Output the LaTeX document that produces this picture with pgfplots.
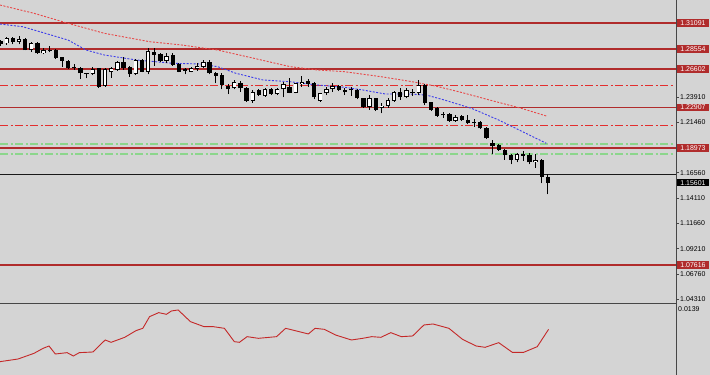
\documentclass[border=0pt]{standalone}
\usepackage{pgfplots}
\pgfplotsset{compat=1.18}
\usepackage{pgfplotstable}
\usepackage{fontspec}
\setmainfont{Liberation Sans}
\definecolor{bg}{RGB}{212,212,212}
\definecolor{lvl}{RGB}{176,44,44}
\definecolor{dd}{RGB}{226,46,46}
\definecolor{lg}{RGB}{140,214,140}
\definecolor{mared}{RGB}{232,70,70}
\definecolor{mablue}{RGB}{60,60,235}
\definecolor{ind}{RGB}{196,40,40}
\definecolor{frm}{RGB}{70,70,70}

\pgfplotstableread{
i o h l c
0 1.2929 1.2943 1.2885 1.2909
1 1.2911 1.2975 1.2895 1.2960
2 1.2966 1.2975 1.2902 1.2927
3 1.2927 1.2985 1.2902 1.2953
4 1.2953 1.2958 1.2842 1.2846
5 1.2846 1.2921 1.2830 1.2911
6 1.2911 1.2921 1.2811 1.2814
7 1.2814 1.2863 1.2805 1.2846
8 1.2849 1.2888 1.2824 1.2840
9 1.2846 1.2856 1.2759 1.2766
10 1.2776 1.2782 1.2685 1.2740
11 1.2743 1.2750 1.2662 1.2669
12 1.2685 1.2708 1.2653 1.2669
13 1.2675 1.2685 1.2563 1.2621
14 1.2624 1.2626 1.2572 1.2614
15 1.2611 1.2685 1.2604 1.2659
16 1.2669 1.2675 1.2481 1.2491
17 1.2498 1.2669 1.2491 1.2659
18 1.2633 1.2685 1.2578 1.2669
19 1.2653 1.2740 1.2643 1.2733
20 1.2733 1.2782 1.2653 1.2675
21 1.2685 1.2694 1.2588 1.2611
22 1.2611 1.2759 1.2604 1.2750
23 1.2750 1.2759 1.2630 1.2636
24 1.2636 1.2869 1.2611 1.2837
25 1.2830 1.2863 1.2694 1.2798
26 1.2805 1.2814 1.2727 1.2740
27 1.2740 1.2814 1.2718 1.2791
28 1.2798 1.2814 1.2694 1.2701
29 1.2708 1.2718 1.2630 1.2636
30 1.2659 1.2675 1.2611 1.2643
31 1.2636 1.2685 1.2630 1.2669
32 1.2662 1.2718 1.2643 1.2691
33 1.2685 1.2750 1.2669 1.2727
34 1.2727 1.2750 1.2611 1.2621
35 1.2626 1.2636 1.2524 1.2597
36 1.2604 1.2621 1.2466 1.2507
37 1.2498 1.2517 1.2420 1.2466
38 1.2475 1.2556 1.2466 1.2539
39 1.2530 1.2549 1.2442 1.2475
40 1.2475 1.2485 1.2345 1.2355
41 1.2355 1.2459 1.2336 1.2442
42 1.2459 1.2466 1.2401 1.2410
43 1.2401 1.2475 1.2394 1.2466
44 1.2466 1.2475 1.2410 1.2420
45 1.2420 1.2475 1.2410 1.2466
46 1.2466 1.2539 1.2388 1.2517
47 1.2485 1.2572 1.2427 1.2433
48 1.2433 1.2530 1.2427 1.2524
49 1.2517 1.2595 1.2491 1.2539
50 1.2549 1.2563 1.2491 1.2517
51 1.2530 1.2539 1.2369 1.2388
52 1.2355 1.2433 1.2345 1.2427
53 1.2427 1.2485 1.2410 1.2466
54 1.2468 1.2524 1.2442 1.2500
55 1.2500 1.2507 1.2449 1.2459
56 1.2459 1.2481 1.2410 1.2436
57 1.2462 1.2491 1.2404 1.2456
58 1.2459 1.2468 1.2369 1.2378
59 1.2381 1.2384 1.2287 1.2297
60 1.2297 1.2410 1.2265 1.2381
61 1.2381 1.2384 1.2255 1.2265
62 1.2282 1.2330 1.2233 1.2307
63 1.2307 1.2378 1.2287 1.2362
64 1.2355 1.2449 1.2345 1.2436
65 1.2442 1.2481 1.2362 1.2388
66 1.2394 1.2481 1.2378 1.2459
67 1.2436 1.2468 1.2404 1.2427
68 1.2427 1.2556 1.2410 1.2507
69 1.2507 1.2514 1.2311 1.2330
70 1.2340 1.2345 1.2255 1.2265
71 1.2287 1.2297 1.2200 1.2210
72 1.2219 1.2243 1.2191 1.2214
73 1.2223 1.2233 1.2152 1.2158
74 1.2158 1.2217 1.2152 1.2194
75 1.2210 1.2217 1.2158 1.2168
76 1.2168 1.2217 1.2126 1.2136
77 1.2146 1.2178 1.2103 1.2139
78 1.2146 1.2158 1.2081 1.2088
79 1.2091 1.2103 1.1984 1.1991
80 1.1942 1.1974 1.1836 1.1916
81 1.1926 1.1933 1.1868 1.1877
82 1.1877 1.1887 1.1781 1.1829
83 1.1829 1.1836 1.1739 1.1781
84 1.1781 1.1845 1.1758 1.1836
85 1.1836 1.1868 1.1771 1.1822
86 1.1829 1.1845 1.1739 1.1758
87 1.1758 1.1836 1.1706 1.1781
88 1.1781 1.1790 1.1555 1.1619
89 1.1619 1.1642 1.1448 1.1560
}\candles

\pgfplotstableread{
x y
-0.08 1.3282
5.45 1.3202
10.98 1.3105
16.88 1.3008
24.24 1.2927
29.41 1.2895
35.30 1.2846
41.20 1.2766
47.10 1.2685
51.50 1.2653
55.95 1.2636
61.85 1.2588
66.26 1.2546
70.70 1.2498
75.10 1.2433
79.50 1.2362
84.70 1.2281
88.75 1.2207
}\maslow

\pgfplotstableread{
x y
-0.08 1.3098
3.61 1.3072
7.28 1.3008
10.98 1.2943
13.92 1.2846
16.88 1.2798
22.03 1.2750
27.93 1.2718
32.36 1.2711
35.30 1.2685
38.26 1.2621
42.68 1.2556
47.10 1.2539
51.53 1.2507
55.95 1.2485
58.90 1.2459
62.59 1.2420
66.26 1.2420
69.22 1.2410
72.16 1.2362
76.59 1.2281
81.00 1.2168
85.43 1.2039
88.75 1.1942
}\mafast

\pgfplotstableread{
x y
-0.08 0.00758
2.86 0.00790
5.45 0.00858
6.93 0.00918
7.89 0.00946
8.91 0.00850
10.83 0.00866
11.85 0.00826
12.81 0.00866
15.02 0.00874
17.02 0.01018
17.98 0.00990
20.20 0.01050
22.03 0.01130
23.14 0.01158
24.24 0.01298
25.72 0.01346
26.98 0.01326
27.79 0.01366
28.89 0.01378
30.88 0.01238
33.09 0.01178
34.57 0.01178
36.41 0.01158
38.02 0.00998
38.85 0.00990
40.10 0.01058
41.93 0.01038
44.89 0.01058
46.36 0.01158
48.57 0.01118
50.05 0.01090
51.15 0.01158
52.63 0.01146
54.47 0.01078
57.06 0.01018
58.89 0.01038
60.37 0.01058
61.85 0.01050
63.46 0.01106
65.17 0.01058
67.01 0.01066
68.85 0.01198
70.33 0.01210
72.91 0.01158
75.12 0.01026
77.33 0.00946
78.80 0.00930
81.01 0.00986
83.22 0.00870
85.07 0.00870
87.28 0.00938
89.12 0.01146
}\indic

\begin{document}
\begin{tikzpicture}
\path[use as bounding box, fill=bg] (0,0) rectangle (710bp,375bp);
\begin{axis}[
  at={(0,72.5bp)}, anchor=south west, scale only axis,
  width=676bp, height=302.5bp,
  xmin=-0.0813, xmax=109.837, ymin=1.03997, ymax=1.33309,
  axis line style={draw=none}, xtick=\empty,
  ytick pos=right, yticklabel pos=right, tick align=outside,
  major tick length=3bp, tick style={frm, line width=0.7bp},
  ytick={1.04310,1.06760,1.09210,1.11660,1.14110,1.16560,1.19010,1.21460,1.23910,1.26360,1.28810,1.31260},
  yticklabels={1.04310,1.06760,1.09210,1.11660,1.14110,1.16560,{},1.21460,1.23910,{},{},{}},
  yticklabel style={anchor=west, inner sep=0pt, xshift=1bp, font=\fontsize{7}{8}\selectfont},
]
% level lines
\addplot[lvl, line width=1.6bp] coordinates {(-1,1.31091) (111,1.31091)};
\addplot[lvl, line width=1.6bp] coordinates {(-1,1.28554) (111,1.28554)};
\addplot[lvl, line width=1.6bp] coordinates {(-1,1.26602) (111,1.26602)};
\addplot[lvl, line width=1.6bp] coordinates {(-1,1.22907) (111,1.22907)};
\addplot[lvl, line width=1.6bp] coordinates {(-1,1.18973) (111,1.18973)};
\addplot[lvl, line width=1.6bp] coordinates {(-1,1.07616) (111,1.07616)};
\addplot[dd, line width=1bp, dash pattern=on 8bp off 2.5bp on 2bp off 2.5bp] coordinates {(-0.08,1.2507) (109.3,1.2507)};
\addplot[dd, line width=1bp, dash pattern=on 8bp off 2.5bp on 2bp off 2.5bp] coordinates {(-0.08,1.2117) (109.3,1.2117)};
\addplot[lg, line width=1.5bp, dash pattern=on 8bp off 2.5bp on 2bp off 2.5bp] coordinates {(-0.08,1.1936) (109.3,1.1936)};
\addplot[lg, line width=1.5bp, dash pattern=on 8bp off 2.5bp on 2bp off 2.5bp] coordinates {(-0.08,1.1839) (109.3,1.1839)};
\addplot[black!90, line width=1bp] coordinates {(-1,1.1639) (111,1.1639)};
% moving averages
\addplot[mared, line width=0.9bp, dash pattern=on 2bp off 1.5bp] table[x=x,y=y] {\maslow};
\addplot[mablue, line width=0.9bp, dash pattern=on 2bp off 1.5bp] table[x=x,y=y] {\mafast};
% wicks
\addplot[draw=none, no markers, error bars/.cd, y dir=plus, y explicit, error mark=none,
  error bar style={draw=black, solid, line width=0.9bp}]
  table[x=i, y=l, y error plus expr={\thisrow{h}-\thisrow{l}}] {\candles};
% bodies
\addplot[draw=none, no markers, error bars/.cd, y dir=plus, y explicit, error mark=none,
  error bar style={draw=black, solid, line width=4.3bp}]
  table[x=i, y expr={min(\thisrow{o},\thisrow{c})}, y error plus expr={max(abs(\thisrow{c}-\thisrow{o}),0.0009)}] {\candles};
% bullish interiors
\addplot[draw=none, no markers, error bars/.cd, y dir=plus, y explicit, error mark=none,
  error bar style={draw=white, solid, line width=2.7bp}]
  table[x=i, y expr={\thisrow{o}+0.0008}, y error plus expr={max(\thisrow{c}-\thisrow{o}-0.0016,0)}] {\candles};
\coordinate (b1) at (axis cs:109.837,1.31091);
\coordinate (b2) at (axis cs:109.837,1.28554);
\coordinate (b3) at (axis cs:109.837,1.26602);
\coordinate (b4) at (axis cs:109.837,1.22907);
\coordinate (b5) at (axis cs:109.837,1.18973);
\coordinate (b6) at (axis cs:109.837,1.07616);
\coordinate (b7) at (axis cs:109.837,1.15601);
\end{axis}
\begin{axis}[
  at={(0,0)}, anchor=south west, scale only axis,
  width=676bp, height=70.7bp,
  xmin=-0.0813, xmax=109.837, ymin=0.00598, ymax=0.01446,
  axis line style={draw=none}, xtick=\empty, scaled y ticks=false,
  ytick pos=right, yticklabel pos=right, major tick length=0pt,
  ytick={0.0139}, yticklabels={0.0139},
  yticklabel style={anchor=west, inner sep=0pt, xshift=2bp, font=\fontsize{7}{8}\selectfont},
]
\addplot[ind, line width=0.9bp] table[x=x,y=y] {\indic};
\end{axis}
\draw[frm, line width=1.7bp] (0,71.5bp) -- (676bp,71.5bp);
\draw[frm, line width=0.9bp] (676bp,0) -- (676bp,375bp);
\tikzset{lab/.style={anchor=west, inner sep=0pt, minimum width=32bp, minimum height=7.5bp, text=white, font=\fontsize{7}{8}\selectfont, xshift=0.8bp}}
\node[lab, fill=lvl] at (b1) {1.31091};
\node[lab, fill=lvl] at (b2) {1.28554};
\node[lab, fill=lvl] at (b3) {1.26602};
\node[lab, fill=lvl] at (b4) {1.22907};
\node[lab, fill=lvl] at (b5) {1.18973};
\node[lab, fill=lvl] at (b6) {1.07616};
\node[lab, fill=black] at (b7) {1.15601};
\end{tikzpicture}
\end{document}
